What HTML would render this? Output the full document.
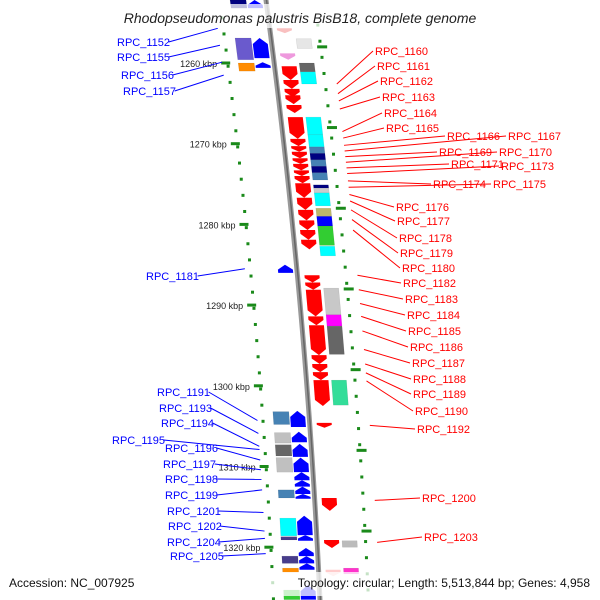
<!DOCTYPE html>
<html><head><meta charset="utf-8">
<style>
html,body{margin:0;padding:0;background:#fff;}
svg{display:block;font-family:"Liberation Sans",sans-serif;}
</style></head>
<body>
<svg id="map" width="600" height="600" viewBox="0 0 600 600" xmlns="http://www.w3.org/2000/svg">
<g id="ticks"></g>
<g id="labels"></g>
<g id="features"></g>
<g id="backbone"></g>
<rect x="100" y="4" width="400" height="24" fill="#fff" opacity="0.75"/>
<text x="300" y="23" text-anchor="middle" font-size="14" font-style="italic" fill="#222">Rhodopseudomonas palustris BisB18, complete genome</text>
<rect x="0" y="572" width="600" height="24" fill="#fff" opacity="0.75"/>
<text x="9" y="587" font-size="12" fill="#111">Accession: NC_007925</text>
<text x="590" y="587" font-size="12" fill="#111" text-anchor="end">Topology: circular; Length: 5,513,844 bp; Genes: 4,958</text>
</svg>
<script>
// ---- data ----
var fwdStarts=[1255.7,1258.8,1260.4,1262.1,1263.2,1264.0,1265.2,1266.7,1269.4,1270.3,1271.0,1271.8,1272.5,1273.3,1274.0,1274.9,1276.7,1278.2,1279.5,1280.7,1281.9,1286.3,1287.2,1288.1,1291.4,1292.5,1296.2,1297.3,1298.3,1299.3,1304.6,1313.9,1319.1,1322.8];
var fwdEnds  =[1256.3,1259.6,1262.1,1263.2,1264.2,1265.1,1266.2,1269.4,1270.3,1271.0,1271.8,1272.5,1273.3,1274.0,1274.9,1276.7,1278.2,1279.5,1280.7,1281.9,1283.1,1287.2,1288.1,1291.4,1292.5,1296.2,1297.3,1298.3,1299.3,1302.5,1305.2,1315.5,1320.1,1323.6];
var fwdColors=["#f9c0c0","#ee99dd","red","red","red","red","red","red","red","red","red","red","red","red","red","red","red","red","red","red","red","red","red","red","red","red","red","red","red","red","red","red","red","#fcc"];
var outRStarts=[1257.0,1260.0,1261.1,1266.7,1268.9,1270.4,1271.2,1272.0,1272.8,1273.6,1275.1,1275.5,1276.1,1278.0,1279.0,1280.2,1282.7,1287.9,1291.2,1292.6,1299.3,1319.2,1322.6];
var outREnds  =[1258.2,1261.1,1262.6,1268.9,1270.4,1271.2,1272.0,1272.8,1273.6,1274.5,1275.5,1276.1,1277.7,1279.0,1280.2,1282.6,1283.9,1291.2,1292.6,1296.1,1302.4,1320.0,1323.3];
var outRColors=["#e6e6e6","#666","cyan","cyan","cyan","steelblue","navy","steelblue","navy","steelblue","navy","#ccc","cyan","#bdb76b","blue","limegreen","cyan","#c8c8c8","#f0f","#666","#33dd99","#bbb","#f3c"];
var revStarts=[1252.2,1256.9,1259.9,1285.0,1303.1,1305.7,1307.2,1308.9,1310.7,1311.7,1312.5,1313.4,1316.1,1318.5,1320.1,1321.1,1322.0,1324.7];
var revEnds  =[1253.2,1259.4,1260.6,1286.0,1305.1,1307.0,1308.8,1310.7,1311.7,1312.5,1313.4,1314.0,1318.5,1319.2,1321.1,1322.0,1322.8,1326.5];
var outLStarts=[1252.2,1256.9,1260.0,1303.2,1305.8,1307.3,1308.9,1312.9,1316.4,1318.7,1321.1,1322.6,1325.3];
var outLEnds  =[1253.2,1259.6,1261.0,1304.8,1307.1,1308.7,1310.7,1313.9,1318.6,1319.1,1322.0,1323.1,1326.5];
var outLColors=["navy","#6a5acd","darkorange","steelblue","#c0c0c0","#666","#c0c0c0","steelblue","cyan","#483d8b","#483d8b","darkorange","#3c3"];
var majorTicks=[1260,1270,1280,1290,1300,1310,1320];
var tickLabels=["1260 kbp","1270 kbp","1280 kbp","1290 kbp","1300 kbp","1310 kbp","1320 kbp"];
var rightNames=["RPC_1160","RPC_1161","RPC_1162","RPC_1163","RPC_1164","RPC_1165","RPC_1166","RPC_1167","RPC_1169","RPC_1170","RPC_1171","RPC_1173","RPC_1174","RPC_1175","RPC_1176","RPC_1177","RPC_1178","RPC_1179","RPC_1180","RPC_1182","RPC_1183","RPC_1184","RPC_1185","RPC_1186","RPC_1187","RPC_1188","RPC_1189","RPC_1190","RPC_1192","RPC_1200","RPC_1203"];
var rightGeneKbp=[1262.6,1263.8,1264.7,1265.7,1268.5,1269.3,1270.2,1270.9,1271.6,1272.3,1273.0,1273.7,1274.6,1275.4,1276.3,1277.1,1278.2,1279.4,1280.7,1286.3,1288.1,1289.8,1291.4,1293.2,1295.5,1297.3,1298.4,1299.4,1304.9,1314.2,1319.4];
var rightLabelX=[375,377,380,382,384,386,447,508,439,499,451,501,433,493,396,397,399,400,402,403,405,407,408,410,412,413,413,415,417,422,424];
var rightLabelY=[55,70,85,101,117,132,140,140,156,156,168,170,188,188,211,225,242,257,272,287,303,319,335,351,367,383,398,415,433,502,541];
var leftNames=["RPC_1152","RPC_1155","RPC_1156","RPC_1157","RPC_1181","RPC_1191","RPC_1193","RPC_1194","RPC_1195","RPC_1196","RPC_1197","RPC_1198","RPC_1199","RPC_1201","RPC_1202","RPC_1204","RPC_1205"];
var leftGeneKbp=[1255.7,1257.8,1259.9,1261.5,1285.5,1304.3,1305.9,1307.5,1307.9,1309.2,1310.4,1311.6,1312.9,1315.7,1318.0,1318.9,1320.8];
var leftLabelX=[117,117,121,123,146,157,159,161,112,165,163,165,165,167,168,167,170];
var leftLabelY=[46,61,79,95,280,396,412,427,444,452,468,483,499,515,530,546,560];

// ---- scales ----
function yOf(k){return 63+(k-1260)*8.07;}
function bx(y){return 266+0.1348*y-0.0000747*y*y;}
var NS="http://www.w3.org/2000/svg";
function mk(tag,attrs,parent){var e=document.createElementNS(NS,tag);for(var a in attrs)e.setAttribute(a,attrs[a]);parent.appendChild(e);return e;}
var gF=document.getElementById('features'),gT=document.getElementById('ticks'),gL=document.getElementById('labels'),gB=document.getElementById('backbone');

// backbone (arc)
var bd1='',bd2='',bd3='';
for(var yy=-5;yy<=605;yy+=5){bd1+=(yy<0?'M':'L')+bx(yy).toFixed(2)+','+yy+' ';}
var el=mk('path',{d:bd1,fill:'none',stroke:'#999','stroke-width':5},gB);


for(yy=-5;yy<=605;yy+=5){bd2+=(yy<0?'M':'L')+(bx(yy)+0.5).toFixed(2)+','+yy+' ';}
el=mk('path',{d:bd2,fill:'none',stroke:'#666','stroke-width':1.5},gB);



function pts(p){return p.map(function(q){return q[0].toFixed(2)+','+q[1].toFixed(2);}).join(' ');}
function box(s,e,o1,o2,col){
  var y1=yOf(s),y2=yOf(e);
  var p=[[bx(y1)+o1,y1],[bx(y1)+o2,y1],[bx(y2)+o2,y2],[bx(y2)+o1,y2]];
  return mk('polygon',{points:pts(p),fill:col,stroke:'rgba(0,0,0,0.12)','stroke-width':0.5},gF);
}
function arrow(s,e,o1,o2,col,down){
  var y1=yOf(s),y2=yOf(e),h=Math.min(6,(y2-y1)*0.6),p;
  if(down){var ym=y2-h;p=[[bx(y1)+o1,y1],[bx(y1)+o2,y1],[bx(ym)+o2,ym],[bx(y2)+(o1+o2)/2,y2],[bx(ym)+o1,ym]];}
  else{var ym2=y1+h;p=[[bx(y1)+(o1+o2)/2,y1],[bx(ym2)+o2,ym2],[bx(y2)+o2,y2],[bx(y2)+o1,y2],[bx(ym2)+o1,ym2]];}
  return mk('polygon',{points:pts(p),fill:col},gF);
}
var i;
for(i=0;i<fwdStarts.length;i++){
  el=arrow(fwdStarts[i],fwdEnds[i],7,22,fwdColors[i],true);
  
  
}
for(i=0;i<outRStarts.length;i++){
  el=box(outRStarts[i],outREnds[i],25,40,outRColors[i]);
  
  
}
for(i=0;i<revStarts.length;i++){
  el=arrow(revStarts[i],revEnds[i],-19,-4,'blue',false);
  
  
}
for(i=0;i<outLStarts.length;i++){
  el=box(outLStarts[i],outLEnds[i],-36,-20,outLColors[i]);
  
  
}
// minor dots
for(var k=1254;k<=1326;k+=2){
  var y=yOf(k+0.4);
  el=mk('rect',{x:bx(y)-48,y:y-1.5,width:3,height:3,fill:'#1a8a1a'},gT);
  
  
  var y2=yOf(k+1.3);
  el=mk('rect',{x:bx(y2)+47,y:y2-1.5,width:3,height:3,fill:'#1a8a1a'},gT);
  
  
}
for(i=0;i<majorTicks.length;i++){
  var ty=yOf(majorTicks[i]);
  el=mk('rect',{x:bx(ty)-53,y:ty-1.5,width:9,height:3,fill:'#1a8a1a'},gT);
  
  
  var ry=yOf(majorTicks[i]-2);
  el=mk('rect',{x:bx(ry)+45,y:ry-1.5,width:10,height:3,fill:'#1a8a1a'},gT);
  
  
  el=mk('text',{x:bx(ty)-57,y:ty+4,'font-size':9,fill:'#222','text-anchor':'end'},gT);
  el.textContent=tickLabels[i];
  
  
}
for(i=0;i<rightNames.length;i++){
  var gy=yOf(rightGeneKbp[i]);
  el=mk('line',{x1:bx(gy)+60,y1:gy,x2:rightLabelX[i]-2,y2:rightLabelY[i]-4,stroke:'red','stroke-width':1},gL);
  
  
  el=mk('text',{x:rightLabelX[i],y:rightLabelY[i],'font-size':11,fill:'red'},gL);
  el.textContent=rightNames[i];
  
  
}
for(i=0;i<leftNames.length;i++){
  var ly=yOf(leftGeneKbp[i]);
  var tw=leftNames[i].length*6.2;
  el=mk('line',{x1:leftLabelX[i]+tw+2,y1:leftLabelY[i]-4,x2:bx(ly)-52,y2:ly,stroke:'blue','stroke-width':1},gL);
  
  
  el=mk('text',{x:leftLabelX[i],y:leftLabelY[i],'font-size':11,fill:'blue'},gL);
  el.textContent=leftNames[i];
  
  
}
</script>
</body></html>
